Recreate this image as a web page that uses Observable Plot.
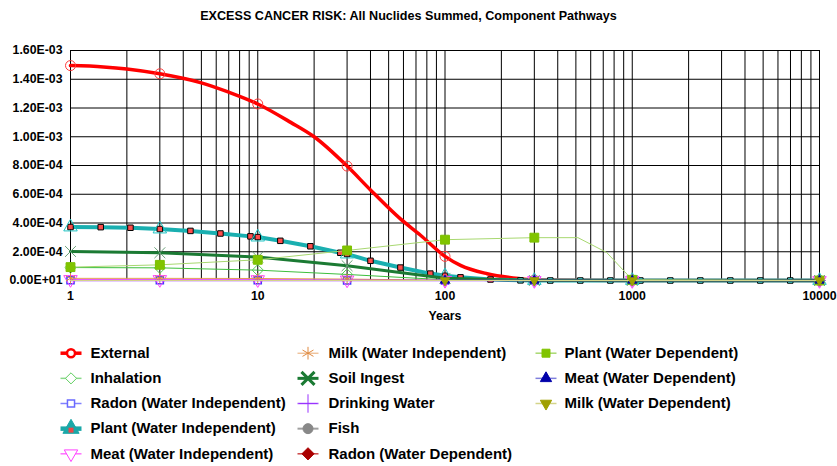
<!DOCTYPE html>
<html><head><meta charset="utf-8">
<script src="https://cdn.jsdelivr.net/npm/d3@7"></script>
<script src="https://cdn.jsdelivr.net/npm/@observablehq/plot@0.6"></script>
<style>
html,body{margin:0;padding:0;background:#fff;}
#chart svg{display:block;}
</style></head><body><div id="chart"></div>
<script>
const chartTitle = "EXCESS CANCER RISK: All Nuclides Summed, Component Pathways";
const xAxisTitle = "Years";
const keyYears = [1, 3, 10, 30, 100, 300, 1000, 10000];
const xTicks = [1, 10, 100, 1000, 10000];
const xTickLabels = ["1", "10", "100", "1000", "10000"];
const yTicks = [0, 2e-4, 4e-4, 6e-4, 8e-4, 1e-3, 1.2e-3, 1.4e-3, 1.6e-3];
const yTickLabels = ["0.00E+01", "2.00E-04", "4.00E-04", "6.00E-04", "8.00E-04", "1.00E-03", "1.20E-03", "1.40E-03", "1.60E-03"];

const seriesNames = [
  "External", "Inhalation", "Radon (Water Independent)", "Plant (Water Independent)", "Meat (Water Independent)",
  "Milk (Water Independent)", "Soil Ingest", "Drinking Water", "Fish", "Radon (Water Dependent)",
  "Plant (Water Dependent)", "Meat (Water Dependent)", "Milk (Water Dependent)"
];

const externalYears = [1, 1.5, 2, 3, 5, 7, 10, 15, 20, 30, 40, 57.6, 74, 100, 121, 168, 253, 300, 1000, 10000];
const externalRisk = [1.495e-3, 1.486e-3, 1.472e-3, 1.438e-3, 1.375e-3, 1.31e-3, 1.228e-3, 1.10e-3, 1.0e-3, 7.96e-4, 6.3e-4, 4.3e-4, 3.15e-4, 1.68e-4, 1.05e-4, 4.7e-5, 1.2e-5, 3e-6, 0, 0];

const inhalationRisk = [9.0e-5, 8.8e-5, 7.2e-5, 4.2e-5, 5e-6, 0, 0, 0];
const radonWIRisk = [2e-6, 2e-6, 2e-6, 1e-6, 0, 0, 0, 0];

const plantWIYears = [1, 1.45, 2.09, 3, 4.37, 6.32, 9.14, 10, 13.2, 19.1, 27.6, 30, 40, 57.8, 83.5, 100, 121, 175, 253, 300, 365, 528, 764, 1000, 1105, 1597, 2310, 3340, 4830, 6980, 10000];
const plantWIRisk = [3.72e-4, 3.71e-4, 3.67e-4, 3.58e-4, 3.45e-4, 3.27e-4, 3.07e-4, 3.02e-4, 2.76e-4, 2.38e-4, 1.93e-4, 1.84e-4, 1.37e-4, 9.0e-5, 4.8e-5, 3.3e-5, 2.2e-5, 7e-6, 1e-6, 0, 0, 0, 0, 0, 0, 0, 0, 0, 0, 0, 0];

const meatWIRisk = [7e-6, 7e-6, 6e-6, 4e-6, 1e-6, 0, 0, 0];
const milkWIRisk = [1.5e-5, 1.5e-5, 1.4e-5, 1.0e-5, 2e-6, 0, 0, 0];
const soilIngestRisk = [2.02e-4, 1.93e-4, 1.63e-4, 1.03e-4, 1.5e-5, 0, 0, 0];
const drinkingWaterRisk = [0, 0, 0, 0, 0, 0, 0, 0];
const fishRisk = [0, 0, 0, 0, 0, 0, 0, 0];
const radonWDRisk = [0, 0, 0, 0, 0, 0, 0, 0];

const plantWDYears = [1, 3, 10, 30, 100, 300, 513, 730, 1000, 10000];
const plantWDRisk = [9.3e-5, 1.09e-4, 1.44e-4, 2.09e-4, 2.84e-4, 2.98e-4, 2.98e-4, 1.95e-4, 5e-6, 0];

const meatWDRisk = [0, 0, 0, 0, 0, 0, 0, 0];
const milkWDRisk = [0, 0, 0, 0, 0, 0, 0, 0];

const seriesData = [
  [externalYears, externalRisk],
  [keyYears, inhalationRisk],
  [keyYears, radonWIRisk],
  [plantWIYears, plantWIRisk],
  [keyYears, meatWIRisk],
  [keyYears, milkWIRisk],
  [keyYears, soilIngestRisk],
  [keyYears, drinkingWaterRisk],
  [keyYears, fishRisk],
  [keyYears, radonWDRisk],
  [plantWDYears, plantWDRisk],
  [keyYears, meatWDRisk],
  [keyYears, milkWDRisk]
];

// styles (code, not data); late = markers only from year 100 on
const S = [
  {line:"#ff0000", w:3.5, curve:"monotone-x", sym:"circle", r:5, mStroke:"#ff3a3a", mFill:"none", mW:1, lgLine:"#ff0000", lgW:3.5, lgR:4, lgStroke:"#ff0000", lgFill:"#fff", lgMW:2.5},
  {line:"#3cbf3c", w:1, sym:"diamond2", r:5, mStroke:"#55cc55", mFill:"none", mW:1, lgLine:"#8ad98a", lgW:1.5, lgR:5, lgStroke:"#5fcf5f", lgFill:"#fff", lgMW:1},
  {line:"#5555ff", w:1, sym:"square", r:4, mStroke:"#3c3cff", mFill:"none", mW:1.5, lgLine:"#8080ff", lgW:1.5, lgR:4, lgStroke:"#6a6aff", lgFill:"#fff", lgMW:1.5},
  {line:"#1aafb0", w:4, sym:"triangle", r:5, mStroke:"#20c4c4", mFill:"none", mW:1, lgLine:"#1aa8a8", lgW:4.5, lgR:6, lgStroke:"#1aa8a8", lgFill:"#1aa8a8", lgMW:1},
  {line:"#ff66ff", w:1, sym:"triangle", rot:180, r:5, mStroke:"#ff40ff", mFill:"none", mW:1, lgLine:"#ff70ff", lgW:1.5, lgR:5, lgStroke:"#ff40ff", lgFill:"#fff", lgMW:1},
  {line:"#e39a55", w:1, sym:"asterisk", r:5, mStroke:"#e08a40", mFill:"none", mW:1, lgLine:"#e8a870", lgW:1, lgR:6, lgStroke:"#e08a40", lgFill:"none", lgMW:1},
  {line:"#1b7a33", w:3, sym:"times", r:5, mStroke:"#6a9f78", mFill:"none", mW:1, lgLine:"#1b7a33", lgW:3, lgR:6, lgStroke:"#1b7a33", lgFill:"none", lgMW:3},
  {line:"#9933ff", w:1.5, sym:"plus", r:4, mStroke:"#9933ff", mFill:"none", mW:1, late:true, lgLine:"#a855ff", lgW:1.5, lgR:6, lgStroke:"#9933ff", lgFill:"none", lgMW:1},
  {line:"#999999", w:1, sym:"circle", r:3.2, mStroke:"#888", mFill:"#888", mW:1, late:true, lgLine:"#a0a0a0", lgW:2, lgR:5, lgStroke:"#888", lgFill:"#888", lgMW:1},
  {line:"#cc3333", w:1, sym:"diamond2", r:3.2, mStroke:"#aa0000", mFill:"#aa0000", mW:1, late:true, lgLine:"#cc4444", lgW:1.5, lgR:5.5, lgStroke:"#aa0000", lgFill:"#aa0000", lgMW:1},
  {line:"#a8d870", w:1, sym:"square", r:5, mStroke:"#7cc000", mFill:"#80c400", mW:1, lgLine:"#a8d870", lgW:1.5, lgR:4.5, lgStroke:"#80c400", lgFill:"#80c400", lgMW:1},
  {line:"#8080dd", w:1, sym:"triangle", r:3.4, mStroke:"#0000aa", mFill:"#0000aa", mW:1, late:true, lgLine:"#8080dd", lgW:1.5, lgR:4.2, lgStroke:"#0000aa", lgFill:"#0000aa", lgMW:1},
  {line:"#d4d48a", w:1, sym:"triangle", rot:180, r:3.4, mStroke:"#a0a000", mFill:"#a0a000", mW:1, late:true, lgLine:"#d4d48a", lgW:1.5, lgR:4.2, lgStroke:"#a0a000", lgFill:"#a0a000", lgMW:1}
];

const FONT = "'Liberation Sans', Arial, sans-serif";
const xGridYears = d3.scaleLog().domain([1, 10000]).ticks();

const marks = [
  Plot.ruleX(xGridYears, {stroke: "#000", strokeWidth: 1}),
  Plot.ruleY(yTicks, {stroke: "#000", strokeWidth: 1}),
  Plot.frame({stroke: "#000"}),
  Plot.axisY(yTicks, {tickFormat: d => yTickLabels[yTicks.indexOf(d)], tickSize: 0, tickPadding: 8, fontWeight: "bold", fontSize: 12.3, label: null}),
  Plot.axisX(xTicks, {tickFormat: d => xTickLabels[xTicks.indexOf(d)], tickSize: 0, tickPadding: 11, fontWeight: "bold", fontSize: 12.3, label: null}),
  Plot.text([chartTitle], {text: d => d, frameAnchor: "top", dx: -36.5, dy: -31, lineAnchor: "bottom", fontWeight: "bold", fontSize: 12.6}),
  Plot.text([xAxisTitle], {text: d => d, frameAnchor: "bottom", dy: 39.5, lineAnchor: "bottom", fontWeight: "bold", fontSize: 12.3})
];

seriesData.forEach(([years, risks], i) => {
  const s = S[i];
  const rows = years.map((year, k) => ({year, risk: risks[k]}));
  marks.push(Plot.line(rows, {x: "year", y: "risk", stroke: s.line, strokeWidth: s.w, curve: s.curve || "linear"}));
  if (i === 3) {
    marks.push(Plot.dot(rows, {x: "year", y: "risk", symbol: "square", r: 3.1, stroke: "#000", strokeWidth: 1,
      fill: d => d.year < 200 ? "#ff4d4d" : "#3fe0e0"}));
  }
  const keyRows = rows.filter(d => keyYears.includes(d.year) && (!s.late || d.year >= 100));
  marks.push(Plot.dot(keyRows, {x: "year", y: "risk", symbol: s.sym, r: s.r, stroke: s.mStroke, fill: s.mFill, strokeWidth: s.mW, rotate: s.rot || 0}));
});

const chart = Plot.plot({
  width: 837, height: 330,
  marginTop: 50, marginLeft: 70, marginRight: 18, marginBottom: 50,
  x: {type: "log", domain: [1, 10000]},
  y: {domain: [0, 1.6e-3]},
  style: {fontFamily: FONT, color: "#000", background: "#fff", overflow: "visible"},
  marks
});

// legend
const colLineX = [60, 297, 535];
const colTextX = [90, 328, 564];
const legendMarks = [];
seriesNames.forEach((name, i) => {
  const s = S[i];
  const col = Math.floor(i / 5), row = i % 5;
  const item = [{x: colLineX[col], y: 22.7 + row * 25.15, tx: colTextX[col], name}];
  legendMarks.push(Plot.link(item, {x1: "x", x2: d => d.x + 21, y1: "y", y2: "y", stroke: s.lgLine, strokeWidth: s.lgW}));
  legendMarks.push(Plot.dot(item, {x: d => d.x + 10.5, y: "y", symbol: s.sym, r: s.lgR, stroke: s.lgStroke, fill: s.lgFill, strokeWidth: s.lgMW, rotate: s.rot || 0}));
  if (i === 3) legendMarks.push(Plot.dot(item, {x: d => d.x + 10.5, y: d => d.y + 1.5, symbol: "square", r: 2.8, fill: "#f04848"}));
  legendMarks.push(Plot.text(item, {x: "tx", y: "y", text: "name", textAnchor: "start", lineAnchor: "middle", fontWeight: "bold", fontSize: 15, fill: "#000"}));
});
const legend = Plot.plot({
  width: 837, height: 136, margin: 0,
  x: {domain: [0, 837], range: [0, 837], axis: null},
  y: {domain: [0, 136], range: [0, 136], axis: null},
  style: {fontFamily: FONT, color: "#000", background: "#fff"},
  marks: legendMarks
});

const root = document.getElementById("chart");
root.appendChild(chart);
root.appendChild(legend);
</script>
</body></html>
